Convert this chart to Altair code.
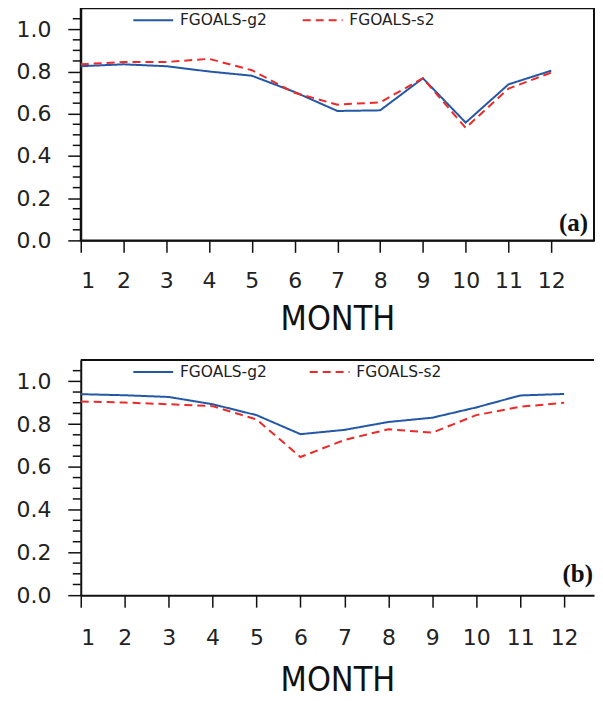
import altair as alt
import pandas as pd

months = list(range(1, 13))
series_names = ["FGOALS-g2", "FGOALS-s2"]
series_colors = ["#2457a8", "#ec2a2a"]

a_g2 = [0.825, 0.834, 0.825, 0.800, 0.780, 0.703, 0.613, 0.616, 0.768, 0.558, 0.739, 0.804]
a_s2 = [0.834, 0.845, 0.845, 0.860, 0.806, 0.699, 0.643, 0.654, 0.768, 0.533, 0.719, 0.795]
b_g2 = [0.940, 0.935, 0.927, 0.893, 0.842, 0.753, 0.773, 0.810, 0.830, 0.878, 0.934, 0.941]
b_s2 = [0.906, 0.901, 0.893, 0.884, 0.822, 0.646, 0.726, 0.776, 0.760, 0.842, 0.881, 0.900]

y_major = [0.0, 0.2, 0.4, 0.6, 0.8, 1.0]
y_minor = [0.05, 0.1, 0.15, 0.25, 0.3, 0.35, 0.45, 0.5, 0.55, 0.65, 0.7, 0.75,
           0.85, 0.9, 0.95, 1.05]
panel_labels = ["(a)", "(b)"]
x_title = "MONTH"

TICK_FONT = "DejaVu Sans"
TITLE_FONT = "DejaVu Sans Condensed, Liberation Sans Narrow, Liberation Sans"


def panel(g2, s2, label, w, h, xmax, legend_x, col_pad, full_frame, lab_pad, title_pad,
          lab_dx, lab_dy):
    df = pd.DataFrame({
        "month": months * 2,
        "value": g2 + s2,
        "model": [series_names[0]] * 12 + [series_names[1]] * 12,
    })
    xscale = alt.Scale(domain=[1, xmax], nice=False, zero=False)
    yscale = alt.Scale(domain=[0, 1.1], nice=False, zero=False)
    xaxis = alt.Axis(values=months, title=x_title, grid=False, tickSize=12, tickWidth=1.5,
                     tickColor="#111", domainColor="#111", domainWidth=2,
                     labelFont=TICK_FONT, labelFontSize=22, labelColor="#222",
                     labelPadding=lab_pad, titleFont=TITLE_FONT, titleFontSize=34,
                     titleFontWeight="normal", titleColor="#111", titlePadding=title_pad)
    yaxis = alt.Axis(values=y_major, format=".1f", title=None, grid=False, tickSize=13,
                     tickWidth=1.5, tickColor="#111", domainColor="#111", domainWidth=2,
                     labelFont=TICK_FONT, labelFontSize=22, labelColor="#222",
                     labelPadding=17)
    leg = alt.Legend(orient="none", legendX=legend_x, legendY=4, direction="horizontal",
                     title=None, symbolType="M-4,0L4,0", symbolSize=100, symbolStrokeWidth=2,
                     labelFont=TICK_FONT, labelFontSize=15.5, labelColor="#222",
                     labelOffset=19, columnPadding=col_pad)
    lines = alt.Chart(df).mark_line(strokeWidth=2).encode(
        x=alt.X("month:Q", scale=xscale, axis=xaxis),
        y=alt.Y("value:Q", scale=yscale, axis=yaxis),
        color=alt.Color("model:N", scale=alt.Scale(domain=series_names, range=series_colors),
                        legend=leg),
        strokeDash=alt.StrokeDash("model:N",
                                  scale=alt.Scale(domain=series_names, range=[[1, 0], [8, 5]]),
                                  legend=leg),
    )
    minor = alt.Chart(pd.DataFrame({"value": y_minor})).mark_rule(
        color="#111", strokeWidth=1.5).encode(
        y=alt.Y("value:Q", scale=yscale, axis=yaxis),
        x=alt.value(-8), x2=alt.value(0),
    )
    txt = alt.Chart(pd.DataFrame({"lab": [label]})).mark_text(
        font="Liberation Serif", fontWeight="bold", fontSize=25, align="right",
        baseline="bottom", color="#111").encode(
        x=alt.value(w + lab_dx), y=alt.value(h + lab_dy), text="lab:N")
    layers = [lines, minor, txt]
    if full_frame:
        view = alt.ViewBackground(stroke="#111", strokeWidth=2)
    else:
        top = alt.Chart(pd.DataFrame({"k": [0]})).mark_rule(color="#111", strokeWidth=2).encode(
            x=alt.value(0), x2=alt.value(w), y=alt.value(0))
        layers.append(top)
        view = alt.ViewBackground(stroke=None)
    return alt.layer(*layers).properties(width=w, height=h, view=view)


pa = panel(a_g2, a_s2, panel_labels[0], 515, 233, 13, 65, 31, True, 18, 11, -6, -4)
pb = panel(b_g2, b_s2, panel_labels[1], 515, 236, 12.68, 65, 38, False, 20.5, 15, -1, -8)

chart = alt.vconcat(pa, pb, spacing=22).resolve_scale(
    color="independent", strokeDash="independent", x="independent", y="independent"
).properties(
    padding={"left": 7, "top": -2, "right": 0, "bottom": -4}
).configure(background="white")

chart.save("out.html", embed_options={"renderer": "svg", "actions": False})
